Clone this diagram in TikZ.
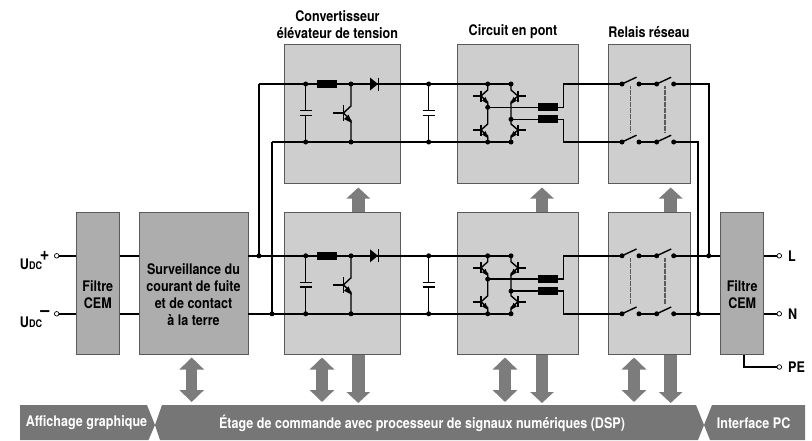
\documentclass[tikz,border=0pt]{standalone}
\usepackage{fontspec}
\setmainfont{TeX Gyre Heros}[FakeStretch=0.86]
\usepackage{xcolor}
\usetikzlibrary{arrows.meta, positioning, calc}
\definecolor{lightbox}{RGB}{205, 206, 205}
\definecolor{darkbox}{RGB}{173, 173, 173}
\definecolor{boxedge}{RGB}{90, 90, 90}
\definecolor{signal}{RGB}{124, 124, 124}
\definecolor{busgray}{RGB}{118, 118, 118}

\begin{document}
\begin{tikzpicture}[
    x=1pt, y=-1pt,
    font=\fontsize{14.6}{17}\selectfont\bfseries,
    block/.style={rectangle, draw=boxedge, line width=0.9pt, fill=lightbox, minimum height=142.5pt, inner sep=0pt, align=center},
    filterbox/.style={block, fill=darkbox},
    blocktext/.style={align=center, inner sep=0pt},
    wire/.style={line width=1.8pt, color=black},
    thinwire/.style={line width=1.4pt, color=black},
    choke/.style={rectangle, fill=black, minimum width=20pt, minimum height=8pt, inner sep=0pt},
    dot/.style={circle, fill=black, inner sep=0pt, minimum size=5pt},
    terminal/.style={circle, draw=black, fill=white, line width=0.7pt, inner sep=0pt, minimum size=4.6pt},
    sigup/.style={line width=12.5pt, color=signal, -{Triangle[length=11pt,width=23pt]}},
    sigboth/.style={line width=11.5pt, color=signal, {Triangle[length=12pt,width=24pt]}-{Triangle[length=12pt,width=24pt]}},
    busbar/.style={fill=busgray, draw=none},
    bustext/.style={text=white},
    title/.style={align=center}
]
\useasboundingbox (0,0) rectangle (812,440);

% signal arrows first, the boxes cover their tails
\foreach \n/\x in {conv/358.3,pont/542,rel/670.7} {
    \coordinate (low\n) at (\x,403);
    \coordinate (mid\n) at (\x,354);
    \coordinate (up\n) at (\x,187.5);
    \coordinate (start\n) at (\x,214);
    \draw[sigup] (mid\n) -- (low\n);
    \draw[sigup] (start\n) -- (up\n);
}
\foreach \n/\x in {a/191.7,b/322,c/505,d/634} {
    \coordinate (busup\n) at (\x,357.5);
    \coordinate (busdn\n) at (\x,402);
    \draw[sigboth] (busup\n) -- (busdn\n);
}

% blocks
\node[filterbox, minimum width=43pt] (filtA) at (97.8,283.3) {};
\node[filterbox, minimum width=109pt] (surv) at (193.5,283.3) {};
\node[filterbox, minimum width=43pt] (filtB) at (742.2,283.3) {};
\node[block, minimum width=116.5pt] (convb) at (342.2,283.3) {};
\node[block, minimum width=120.5pt] (pontb) at (517.7,283.3) {};
\node[block, minimum width=82pt] (relb) at (649,283.3) {};
\node[block, minimum width=116.5pt, minimum height=138.5pt] (convt) at (342.2,113.7) {};
\node[block, minimum width=120.5pt, minimum height=138.5pt] (pontt) at (517.7,113.7) {};
\node[block, minimum width=82pt, minimum height=138.5pt] (relt) at (649,113.7) {};
\node[blocktext] (tfiltA) at ([yshift=-11pt]filtA.center) {Filtre\\CEM};
\node[blocktext] (tsurv) at ([yshift=-11pt]surv.center) {Surveillance du\\courant de fuite\\et de contact\\à la terre};
\node[blocktext] (tfiltB) at ([yshift=-11pt]filtB.center) {Filtre\\CEM};

% titles
\node[title] (tconv) at (337.5,25) {Convertisseur\\élévateur de tension};
\node[title] (tpont) at (513,32) {Circuit en pont};
\node[title] (trel) at (649,32) {Relais réseau};

% both rows of power stages
\foreach \r/\dy in {t/0,b/171.8} {
    \begin{scope}[yshift=-\dy pt]
    \coordinate (p\r) at (259,84);
    \coordinate (m\r) at (272,142);
    \coordinate (cpA\r) at (305.7,84);
    \coordinate (cmA\r) at (305.7,142);
    \coordinate (tc\r) at (351,84);
    \coordinate (te\r) at (351,142);
    \coordinate (cpB\r) at (428.7,84);
    \coordinate (cmB\r) at (428.7,142);
    \coordinate (bl\r) at (487.7,84);
    \coordinate (br\r) at (511,84);
    \coordinate (blm\r) at (487.7,107.3);
    \coordinate (brm\r) at (511,119.3);
    \coordinate (bll\r) at (487.7,142);
    \coordinate (brl\r) at (511,142);
    \coordinate (ka\r) at (563.3,107.3);
    \coordinate (kb\r) at (563.3,119.3);
    \coordinate (kc\r) at (563.3,84);
    \coordinate (kd\r) at (563.3,142);
    \node[choke] (chA\r) at (327,84) {};
    \node[choke] (chB\r) at (548,107.3) {};
    \node[choke] (chC\r) at (548,119.3) {};
    % rails
    \draw[wire] (p\r) -- (br\r);
    \draw[wire] (m\r) -- (brl\r);
    % diode
    \fill (370,77.5) -- (378,84) -- (370,90.5) -- cycle;
    \draw[line width=1.4pt] (378.5,77.5) -- (378.5,90.5);
    % capacitors
    \foreach \c in {A,B} {
        \draw[thinwire] (cp\c\r) -- ($(cp\c\r)+(0,26.7)$);
        \draw[thinwire] (cm\c\r) -- ($(cm\c\r)+(0,-26.7)$);
        \draw[line width=1.5pt] ($(cp\c\r)+(-6,26.7)$) -- ($(cp\c\r)+(6,26.7)$);
        \draw[line width=1.5pt] ($(cp\c\r)+(-6,31.3)$) -- ($(cp\c\r)+(6,31.3)$);
        \node[dot] at (cp\c\r) {};
        \node[dot] at (cm\c\r) {};
    }
    % boost transistor
    \draw[thinwire] (333.3,113) -- (343.5,113);
    \draw[line width=1.8pt] (343.5,105) -- (343.5,121);
    \draw[thinwire] (tc\r) -- (351,106) -- (343.5,113) -- (351,120.5) -- (te\r);
    \fill (352,123) -- (344,119) -- (348.5,114.5) -- cycle;
    \node[dot] at (tc\r) {};
    \node[dot] at (te\r) {};
    % bridge
    \draw[thinwire] (bl\r) -- (487.7,90) -- (481,96) -- (487.7,102) -- (blm\r) -- (487.7,124) -- (481,130) -- (487.7,136) -- (bll\r);
    \draw[thinwire] (br\r) -- (511,90) -- (518,96) -- (511,102) -- (brm\r) -- (511,124) -- (518,130) -- (511,136) -- (brl\r);
    \foreach \y in {96,130} {
        \draw[thinwire] (473.3,\y) -- (481,\y);
        \draw[line width=1.8pt] (481,\y-5.5) -- (481,\y+5.5);
        \fill (488.5,\y+8.5) -- (482,\y+4.5) -- (485.5,\y+1) -- cycle;
        \draw[thinwire] (518,\y) -- (526,\y);
        \draw[line width=1.8pt] (518,\y-5.5) -- (518,\y+5.5);
        \fill (510.2,\y+8.5) -- (517,\y+4.5) -- (513.5,\y+1) -- cycle;
    }
    \foreach \d in {bl\r,br\r,blm\r,brm\r,bll\r,brl\r} \node[dot] at (\d) {};
    \draw[thinwire] (blm\r) -- (chB\r) -- (ka\r) -- (kc\r);
    \draw[thinwire] (brm\r) -- (chC\r) -- (kb\r) -- (kd\r);
    % relay
    \foreach \x [count=\i] in {622,656.7} {
        \foreach \y/\s in {84/u,142/l} {
            \coordinate (sa\s\i\r) at (\x,\y);
            \coordinate (sb\s\i\r) at (\x+17,\y);
            \draw[thinwire] (sa\s\i\r) -- (\x+14.5,\y-6.8);
            \node[dot] at (sa\s\i\r) {};
            \node[dot] at (sb\s\i\r) {};
        }
        \draw[line width=1.3pt, boxedge, dash pattern=on 0.7pt off 0.5pt] (\x+8.3,86) -- (\x+8.3,132.7);
    }
    \draw[wire] (kc\r) -- (sau1\r);
    \draw[wire] (kd\r) -- (sal1\r);
    \draw[wire] (sbu1\r) -- (sau2\r);
    \draw[wire] (sbl1\r) -- (sal2\r);
    \end{scope}
}

% input and output side
\node[terminal] (upl) at (56.7,255.8) {};
\node[terminal] (umi) at (56.7,313.8) {};
\node[terminal] (outl) at (779.3,255.8) {};
\node[terminal] (outn) at (779.3,313.8) {};
\node[terminal] (outpe) at (779.3,367) {};
\coordinate (jr) at (708.7,255.8);
\coordinate (jq) at (698.3,313.8);
\draw[wire] (upl) -- (upl -| filtA.west);
\draw[wire] (umi) -- (umi -| filtA.west);
\draw[wire] (upl -| filtA.east) -- (upl -| surv.west);
\draw[wire] (umi -| filtA.east) -- (umi -| surv.west);
\draw[wire] (upl -| surv.east) -- (pb);
\draw[wire] (umi -| surv.east) -- (mb);
\draw[wire] (pt) -- (pb);
\draw[wire] (mt) -- (mb);
\draw[wire] (sbu2b) -- (jr -| filtB.west);
\draw[wire] (sbl2b) -- (jq -| filtB.west);
\draw[wire] (sbu2t) -| (jr);
\draw[wire] (sbl2t) -| (jq);
\draw[wire] (outl -| filtB.east) -- (outl);
\draw[wire] (outn -| filtB.east) -- (outn);
\draw[wire] ([xshift=2pt]filtB.south) |- (outpe);
\foreach \d in {pb,mb,jr,jq} \node[dot] at (\d) {};

\node (lblp) at (31,264.5) {U{\fontsize{10.5}{11}\selectfont DC}};
\node (lblm) at (31,322.7) {U{\fontsize{10.5}{11}\selectfont DC}};
\node[font=\fontsize{19}{19}\selectfont\bfseries] (plus) at (44.7,255.8) {+};
\node[font=\fontsize{19}{19}\selectfont\bfseries] (minus) at (45,313.8) {\textendash};
\node[right=6pt of outl, inner sep=0pt] (tl) {L};
\node[right=6pt of outn, inner sep=0pt] (tn) {N};
\node[right=6pt of outpe, inner sep=0pt] (tpe) {PE};

% command bus
\fill[busbar] (20,405) -- (147,405) -- (155,425) -- (148.5,440) -- (20,440) -- cycle;
\fill[busbar] (162,405) -- (696,405) -- (704,425) -- (698,440) -- (160,440) -- (155,425) -- cycle;
\fill[busbar] (712,405) -- (805,405) -- (805,440) -- (710,440) -- (704,425) -- cycle;
\node[bustext] (busa) at (86.5,423) {Affichage graphique};
\node[bustext] (busb) at (422,423) {Étage de commande avec processeur de signaux numériques (DSP)};
\node[bustext] (busc) at (753.6,423) {Interface PC};
\end{tikzpicture}
\end{document}
